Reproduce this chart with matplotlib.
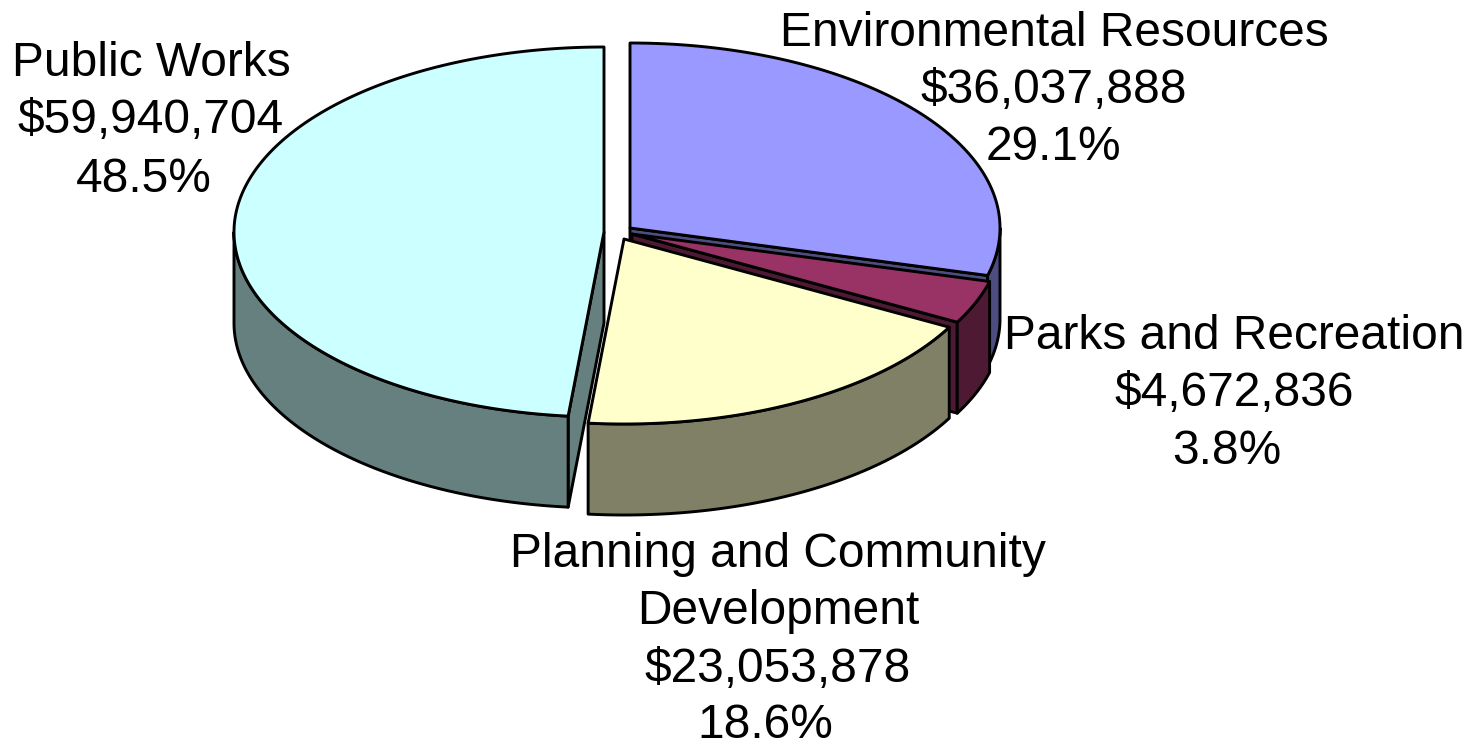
import numpy as np
import matplotlib
matplotlib.use("Agg")
import matplotlib.pyplot as plt
from matplotlib.patches import Polygon

categories = ["Environmental Resources", "Parks and Recreation", "Planning and Community\nDevelopment", "Public Works"]
amounts = [36037888, 4672836, 23053878, 59940704]
top_colors = ["#9999FF", "#993366", "#FFFFCC", "#CCFFFF"]
side_colors = ["#4D4D80", "#4D1933", "#808066", "#668080"]
centers = [(630, 228), (632, 234), (624, 239), (604, 232)]
label_pos = [(1054, 62), (1234, 365), (778, 612), (151, 92)]
percent_pos = [(1053, 147), (1226.5, 451), (765, 725), (143.5, 180)]

RX, RY, DEPTH = 370, 185, 91
LW = 2.1

fig = plt.figure(figsize=(14.75, 7.44), dpi=100)
ax = fig.add_axes([0, 0, 1, 1])
ax.set_xlim(0, 1475)
ax.set_ylim(744, 0)
ax.axis("off")


def rim(c, a0, a1, dz=0):
    t = np.radians(np.linspace(a0, a1, max(int(abs(a1 - a0) * 2), 2)))
    return np.column_stack([c[0] + RX * np.sin(t), c[1] - RY * np.cos(t) + dz])


def poly(pts, color, z):
    ax.add_patch(Polygon(pts, closed=True, facecolor=color, edgecolor="black",
                         linewidth=LW, joinstyle="round", zorder=z))


total = sum(amounts)
edges = np.concatenate([[0], np.cumsum(amounts)]) / total * 360

for i, (c, a0, a1) in enumerate(zip(centers, edges[:-1], edges[1:])):
    z = i * 10
    tip = np.array(c, float)
    down = np.array([0, DEPTH])
    # cut face on the clockwise end of the slice
    if a1 < 180:
        e = rim(c, a1, a1)[0]
        poly([tip, e, e + down, tip + down], side_colors[i], z)
    # cut face on the counter-clockwise start of the slice
    if a0 > 180:
        s = rim(c, a0, a0)[0]
        poly([tip, s, s + down, tip + down], side_colors[i], z)
    # outer wall, only the part that faces the viewer
    v0, v1 = max(a0, 90), min(a1, 270)
    if v1 > v0:
        poly(np.vstack([rim(c, v0, v1), rim(c, v1, v0, DEPTH)]), side_colors[i], z + 1)
    # top face
    poly(np.vstack([[tip], rim(c, a0, a1)]), top_colors[i], z + 2)

style = dict(ha="center", va="center", ma="center", fontsize=34.5,
             family="Liberation Sans", color="black", linespacing=1.36, zorder=100)
for name, amount, (x, y), (px, py) in zip(categories, amounts, label_pos, percent_pos):
    ax.text(x, y, f"{name}\n${amount:,}", **style)
    ax.text(px, py, f"{amount / total * 100:.1f}%", **style)

fig.savefig("out.png", dpi=100, facecolor="white")
